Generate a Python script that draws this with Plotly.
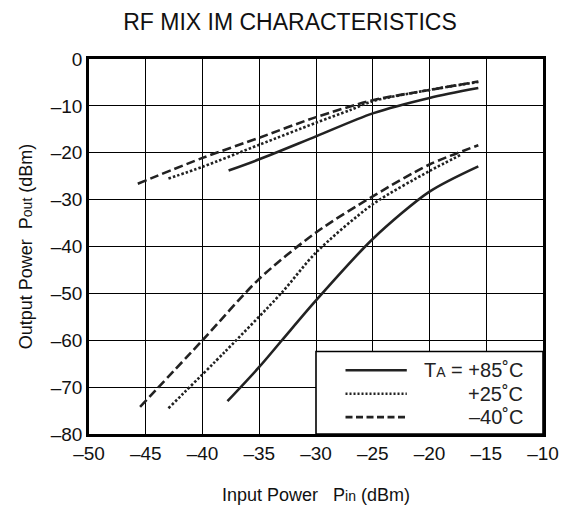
import plotly.graph_objects as go

# upper (fundamental) curves, Pin in dBm -> Pout in dBm
up_85_x = [-37.7, -35, -30, -25, -20, -15.7]
up_85_y = [-23.8, -21.4, -16.5, -11.6, -8.3, -6.2]
up_25_x = [-43.0, -40, -35, -30, -27, -25, -20, -15.7]
up_25_y = [-25.5, -23.0, -18.3, -13.6, -10.9, -9.0, -6.6, -4.9]
up_m40_x = [-45.7, -40, -35, -30, -25, -20, -15.7]
up_m40_y = [-26.6, -21.1, -16.8, -12.4, -8.8, -6.6, -4.8]

# lower (IM) curves
lo_85_x = [-37.8, -35, -33, -30, -25, -20, -15.7]
lo_85_y = [-73.0, -65.7, -60.0, -51.5, -38.4, -28.3, -22.9]
lo_25_x = [-43.0, -38, -33, -30, -25, -20, -17.2]
lo_25_y = [-74.5, -62.4, -49.8, -41.3, -31.0, -23.9, -20.4]
lo_m40_x = [-45.5, -40, -35, -30, -25, -20, -15.7]
lo_m40_y = [-74.2, -60.0, -46.9, -37.0, -29.3, -22.5, -18.4]

x_ticks = [-50, -45, -40, -35, -30, -25, -20, -15, -10]
y_ticks = [0, -10, -20, -30, -40, -50, -60, -70, -80]
legend_labels = ["T<span style='font-size:14px'>A</span> = +85˚C", "+25˚C", "–40˚C"]

line_dash = {"85": "solid", "25": "2.5px,2px", "m40": "9px,4px"}
legend_dash = ["solid", "2px,2px", "7px,3.5px"]


def lbl(v):
    return str(v).replace("-", "–")


def sub(s):
    return "<span style='font-size:14px'>" + s + "</span>"


fig = go.Figure()
series = [
    (up_85_x, up_85_y, "85"), (up_25_x, up_25_y, "25"), (up_m40_x, up_m40_y, "m40"),
    (lo_85_x, lo_85_y, "85"), (lo_25_x, lo_25_y, "25"), (lo_m40_x, lo_m40_y, "m40"),
]
for xs, ys, k in series:
    fig.add_trace(go.Scatter(x=xs, y=ys, mode="lines", line_shape="spline",
                             line=dict(color="#222", width=2.6, dash=line_dash[k], smoothing=0.8),
                             showlegend=False, hoverinfo="skip"))

# legend box in the lower right corner, covering the grid
fig.add_shape(type="rect", xref="x", yref="y", x0=-30, x1=-10, y0=-80, y1=-62.4,
              fillcolor="white", line=dict(color="black", width=1.6), layer="above")
for i, (lab, d) in enumerate(zip(legend_labels, legend_dash)):
    yy = -66.4 - 5 * i
    fig.add_shape(type="line", xref="x", yref="y", x0=-27.4, x1=-22.0, y0=yy, y1=yy,
                  line=dict(color="#222", width=2.6, dash=d), layer="above")
    fig.add_annotation(x=-11.6, y=yy, xref="x", yref="y", text=lab, showarrow=False,
                       xanchor="right", yanchor="middle",
                       font=dict(size=20, color="#222"))

fig.update_layout(
    width=569, height=506,
    margin=dict(l=81, r=34, t=51, b=78),
    paper_bgcolor="white", plot_bgcolor="white",
    font=dict(family="Liberation Sans, Arial, sans-serif", color="#111", size=19),
    title=dict(text="RF MIX IM CHARACTERISTICS", x=0.4956, xanchor="center",
               y=0.972, yanchor="middle", font=dict(size=23, color="#111")),
)
fig.update_xaxes(range=[-50, -10], tickvals=x_ticks, ticktext=[lbl(v) for v in x_ticks],
                 showgrid=True, gridcolor="black", gridwidth=1.3, zeroline=False,
                 showline=True, linecolor="black", linewidth=2.5, mirror=True,
                 ticks="", tickfont=dict(size=19),
                 title=dict(text="Input Power" + "&nbsp;" * 3 + "P" + sub("in") + " (dBm)",
                            font=dict(size=18), standoff=26))
fig.update_yaxes(range=[-80, 0], tickvals=y_ticks, ticktext=[lbl(v) for v in y_ticks],
                 showgrid=True, gridcolor="black", gridwidth=1.3, zeroline=False,
                 showline=True, linecolor="black", linewidth=2.5, mirror=True,
                 ticks="", tickfont=dict(size=19),
                 title=dict(text="Output Power" + "&nbsp;" * 2 + "P" + sub("out") + " (dBm)",
                            font=dict(size=18), standoff=14))

fig.write_html("out.html")
